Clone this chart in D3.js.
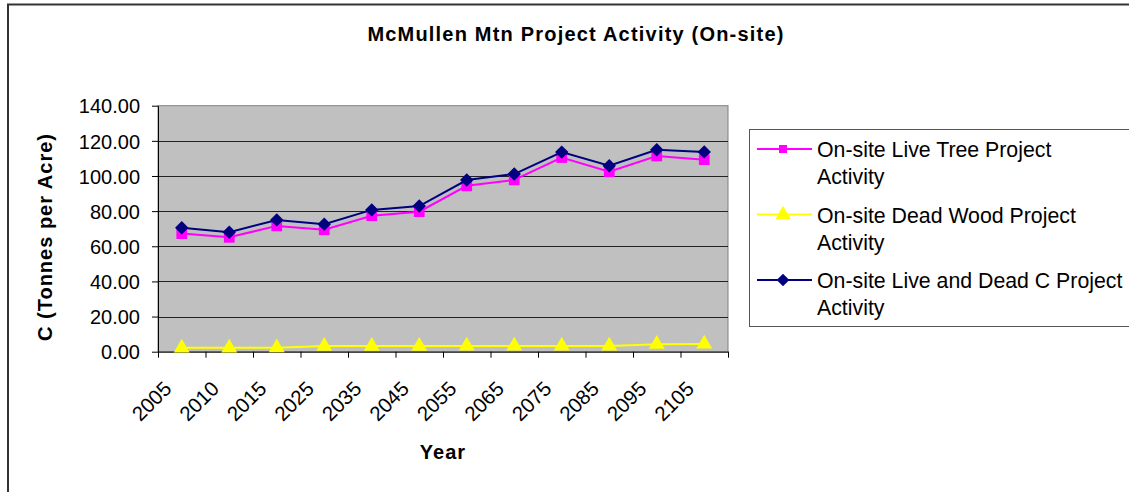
<!DOCTYPE html>
<html>
<head>
<meta charset="utf-8">
<script src="https://cdn.jsdelivr.net/npm/d3@7"></script>
<style>
  html, body { margin: 0; padding: 0; background: #fff; }
  svg { display: block; font-family: Arial, "Liberation Sans", sans-serif; }
</style>
</head>
<body>
<svg id="chart" width="1129" height="492"></svg>
<script>
// McMullen Mtn Project Activity (On-site)
const years = ['2005', '2010', '2015', '2025', '2035', '2045', '2055', '2065', '2075', '2085', '2095', '2105'];
const liveTree = [67.2, 65.1, 71.6, 69.4, 77.4, 79.7, 94.4, 97.8, 110.5, 102.4, 111.4, 109.3];
const deadWood = [2.2, 2.2, 2.3, 3.2, 3.2, 3.2, 3.3, 3.3, 3.3, 3.3, 4.3, 4.4];
const liveDead = [70.5, 68.0, 75.0, 72.6, 80.7, 82.9, 97.7, 101.1, 113.6, 105.8, 114.9, 113.7];
const yTicks = [0, 20, 40, 60, 80, 100, 120, 140];

// square marker turned 45 degrees, like the spreadsheet diamond
const squareDiamond = {
    draw(context, size) {
        const r = Math.sqrt(size / 2);
        context.moveTo(0, -r);
        context.lineTo(r, 0);
        context.lineTo(0, r);
        context.lineTo(-r, 0);
        context.closePath();
    }
};

const series = [
    { name: ['On-site Live Tree Project', 'Activity'], values: liveTree, color: '#ff00ff', symbol: d3.symbolSquare, size: 115, legendSize: 64 },
    { name: ['On-site Dead Wood Project', 'Activity'], values: deadWood, color: '#ffff00', symbol: d3.symbolTriangle, size: 110, legendSize: 100 },
    { name: ['On-site Live and Dead C Project', 'Activity'], values: liveDead, color: '#000080', symbol: squareDiamond, size: 90, legendSize: 80 }
];

const svg = d3.select('#chart');
const plot = { left: 158, right: 728, top: 105.7, bottom: 351.7 };

// outer chart frame
svg.append('rect')
    .attr('x', 8).attr('y', 4.5)
    .attr('width', 1200).attr('height', 600)
    .attr('fill', 'none')
    .attr('stroke', '#333')
    .attr('stroke-width', 2);

const x = d3.scaleLinear().domain([0, years.length]).range([plot.left, plot.right]);
const y = d3.scaleLinear().domain([0, 140]).range([plot.bottom, plot.top]);

// plot area
svg.append('rect')
    .attr('x', plot.left).attr('y', plot.top)
    .attr('width', plot.right - plot.left).attr('height', plot.bottom - plot.top)
    .attr('fill', '#c0c0c0')
    .attr('stroke', '#808080')
    .attr('stroke-width', 1);

// gridlines
svg.append('g')
    .selectAll('line')
    .data(yTicks.filter(d => d > 0 && d < 140))
    .join('line')
    .attr('x1', plot.left).attr('x2', plot.right)
    .attr('y1', d => Math.round(y(d)) + 0.5).attr('y2', d => Math.round(y(d)) + 0.5)
    .attr('stroke', '#222')
    .attr('stroke-width', 1);

// y axis
const yAxis = svg.append('g')
    .attr('transform', `translate(${plot.left},0)`)
    .call(d3.axisLeft(y).tickValues(yTicks).tickFormat(d3.format('.2f')).tickSize(6).tickSizeOuter(0).tickPadding(12));
yAxis.select('.domain').attr('stroke', '#000');
yAxis.selectAll('.tick line').attr('stroke', '#000');
yAxis.selectAll('.tick text')
    .attr('font-size', 20)
    .attr('fill', '#000')
    .attr('dy', '0.36em');

// x axis (ticks at category boundaries)
const xAxis = svg.append('g')
    .attr('transform', `translate(0,${plot.bottom})`)
    .call(d3.axisBottom(x).tickValues(d3.range(years.length + 1)).tickFormat('').tickSize(6).tickSizeOuter(0));
xAxis.select('.domain').attr('stroke', '#000');
xAxis.selectAll('.tick line').attr('stroke', '#000');

svg.append('g')
    .selectAll('text')
    .data(years)
    .join('text')
    .attr('transform', (d, i) => `translate(${x(i + 0.5) - 9},390) rotate(-45)`)
    .attr('text-anchor', 'end')
    .attr('font-size', 20.5)
    .attr('fill', '#000')
    .text(d => d);

// lines and markers
const line = d3.line()
    .x((d, i) => x(i + 0.5))
    .y(d => y(d));

series.forEach(s => {
    svg.append('path')
        .datum(s.values)
        .attr('d', line)
        .attr('fill', 'none')
        .attr('stroke', s.color)
        .attr('stroke-width', 2);
    svg.append('g')
        .selectAll('path')
        .data(s.values)
        .join('path')
        .attr('transform', (d, i) => `translate(${x(i + 0.5)},${y(d)})`)
        .attr('d', d3.symbol().type(s.symbol).size(s.size))
        .attr('fill', s.color);
});

// titles
svg.append('text')
    .attr('x', 576).attr('y', 41)
    .attr('text-anchor', 'middle')
    .attr('font-size', 20)
    .attr('font-weight', 'bold')
    .attr('letter-spacing', 1.2)
    .text('McMullen Mtn Project Activity (On-site)');

svg.append('text')
    .attr('transform', 'translate(52,237) rotate(-90)')
    .attr('text-anchor', 'middle')
    .attr('font-size', 20)
    .attr('font-weight', 'bold')
    .attr('letter-spacing', 1)
    .text('C (Tonnes per Acre)');

svg.append('text')
    .attr('x', 443).attr('y', 459)
    .attr('text-anchor', 'middle')
    .attr('font-size', 20)
    .attr('font-weight', 'bold')
    .attr('letter-spacing', 1)
    .text('Year');

// legend
const legend = svg.append('g');
legend.append('rect')
    .attr('x', 749.5).attr('y', 129.5)
    .attr('width', 500).attr('height', 197)
    .attr('fill', '#fff')
    .attr('stroke', '#555')
    .attr('stroke-width', 1);

series.forEach((s, i) => {
    const base = 157 + i * 65.5;
    const g = legend.append('g');
    g.append('line')
        .attr('x1', 757).attr('x2', 812)
        .attr('y1', base - 8).attr('y2', base - 8)
        .attr('stroke', s.color)
        .attr('stroke-width', 2);
    g.append('path')
        .attr('transform', `translate(783,${base - 8})`)
        .attr('d', d3.symbol().type(s.symbol).size(s.legendSize))
        .attr('fill', s.color);
    g.append('text')
        .attr('x', 817).attr('y', base)
        .attr('font-size', 21.3)
        .attr('fill', '#000')
        .selectAll('tspan')
        .data(s.name)
        .join('tspan')
        .attr('x', 817)
        .attr('dy', (d, j) => j === 0 ? 0 : 27)
        .text(d => d);
});
</script>
</body>
</html>
